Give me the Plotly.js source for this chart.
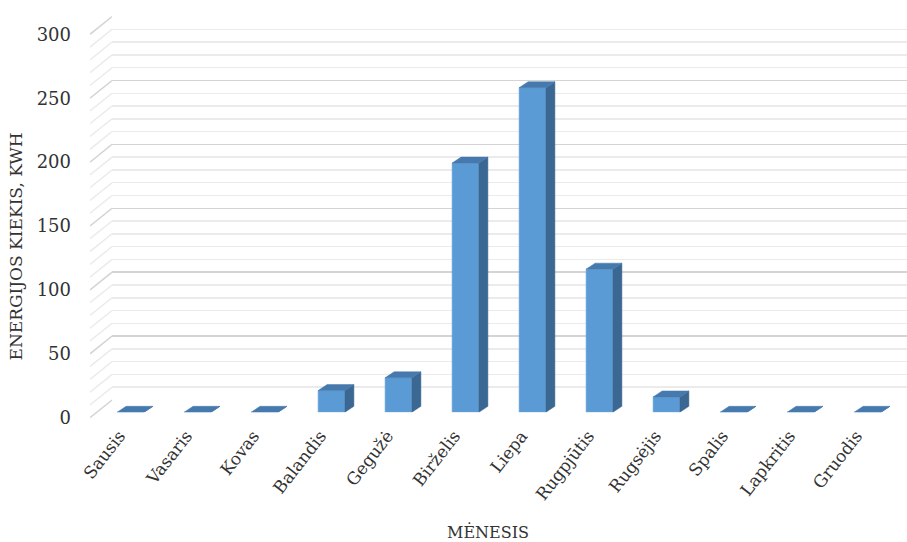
<!DOCTYPE html>
<html>
<head>
<meta charset="utf-8">
<script src="https://cdn.plot.ly/plotly-3.0.1.min.js"></script>
<style>
  html, body { margin: 0; padding: 0; background: #fff; }
  #chart { width: 907px; height: 542px; }
</style>
</head>
<body>
<div id="chart"></div>
<script>
// Monthly energy output, kWh
const months = ['Sausis', 'Vasaris', 'Kovas', 'Balandis', 'Gegužė', 'Birželis',
                'Liepa', 'Rugpjūtis', 'Rugsėjis', 'Spalis', 'Lapkritis', 'Gruodis'];
const energy = [0, 0, 0, 17, 27, 195, 254, 112, 12, 0, 0, 0];
const yTicks = [0, 50, 100, 150, 200, 250, 300];
const yMinor = [0, 10, 20, 30, 40, 50, 60, 70, 80, 90, 100, 110, 120, 130, 140, 150,
                160, 170, 180, 190, 200, 210, 220, 230, 240, 250, 260, 270, 280, 290, 300];

// page geometry helpers (pixels -> paper fractions)
const W = 907, H = 542;
const px = p => p / W;
const py = p => (H - p) / H;
const PPU = 1.278;            // pixels per kWh on the value axis
const depthPx = 17.7;         // vertical lift of the back wall
const depthUnits = depthPx / PPU;

// 3D bar geometry, in axis units
const barW = 0.4;
const sideDx = 9 / 67;
const sideDy = 6 / PPU;

const FONT = 'DejaVu Serif, Liberation Serif, serif';
const TXT = '#333333';

const traces = [];

// slanted left-wall lines linking the front value scale to the back-wall grid
yMinor.forEach(g => {
  traces.push({
    type: 'scatter', mode: 'lines', xaxis: 'x', yaxis: 'y',
    x: [0, 1], y: [g, g + depthUnits],
    line: { color: g % 50 === 0 ? '#d4d4d4' : '#ebebeb', width: 1.5 },
    hoverinfo: 'skip', showlegend: false
  });
});

// front faces of the bars
const idx = months.map((_, i) => i);
traces.push({
  type: 'bar', xaxis: 'x3', yaxis: 'y3',
  x: idx, y: energy, width: barW,
  marker: { color: '#5b9bd5', line: { color: '#6ea8dc', width: 0.6 } },
  hovertext: months, hoverinfo: 'text+y', textposition: 'none', showlegend: false
});

// right side faces
const sx = [], sy = [];
energy.forEach((v, i) => {
  const r = i + barW / 2;
  sx.push(r, r + sideDx, r + sideDx, r, r, null);
  sy.push(0, sideDy, v + sideDy, v, 0, null);
});
traces.push({
  type: 'scatter', mode: 'lines', xaxis: 'x3', yaxis: 'y3',
  x: sx, y: sy, fill: 'toself', fillcolor: '#3a6892',
  line: { color: '#3a6892', width: 0.5 }, hoverinfo: 'skip', showlegend: false
});

// top faces
const tx = [], ty = [];
energy.forEach((v, i) => {
  const l = i - barW / 2, r = i + barW / 2;
  tx.push(l, r, r + sideDx, l + sideDx, l, null);
  ty.push(v, v, v + sideDy, v + sideDy, v, null);
});
traces.push({
  type: 'scatter', mode: 'lines', xaxis: 'x3', yaxis: 'y3',
  x: tx, y: ty, fill: 'toself', fillcolor: '#4679ad',
  line: { color: '#4679ad', width: 0.5 }, hoverinfo: 'skip', showlegend: false
});

// invisible anchors so the back-wall grid and the month-label axis exist
traces.push({
  type: 'scatter', mode: 'markers', xaxis: 'x2', yaxis: 'y2',
  x: [0], y: [0], marker: { opacity: 0 }, hoverinfo: 'skip', showlegend: false
});
traces.push({
  type: 'scatter', mode: 'markers', xaxis: 'x4', yaxis: 'y3',
  x: [0], y: [0], marker: { opacity: 0 }, hoverinfo: 'skip', showlegend: false
});

const yFrontLo = -47, yFrontHi = 315;
const layout = {
  width: W, height: H,
  margin: { l: 0, r: 0, t: 0, b: 0 },
  paper_bgcolor: '#fff', plot_bgcolor: 'rgba(0,0,0,0)',
  font: { family: FONT, color: TXT },
  showlegend: false,
  // left wall + front value labels
  xaxis: {
    domain: [px(90), px(112)], range: [0, 1], visible: false, fixedrange: true
  },
  yaxis: {
    domain: [py(417.7 - yFrontLo * PPU), py(417.7 - yFrontHi * PPU)],
    range: [yFrontLo, yFrontHi], anchor: 'x',
    tickmode: 'array', tickvals: yTicks, ticks: '', ticklabelstandoff: 18,
    showgrid: false, zeroline: false, showline: false,
    tickfont: { family: FONT, size: 18, color: TXT },
    title: { text: 'ENERGIJOS KIEKIS, KWH', font: { family: FONT, size: 17, color: TXT }, standoff: 9 },
    fixedrange: true
  },
  // back wall gridlines
  xaxis2: {
    domain: [px(112), 1], range: [0, 1], visible: false, anchor: 'y2', fixedrange: true
  },
  yaxis2: {
    domain: [py(400 + 0.5 * PPU), py(16.6 - 0.5 * PPU)],
    range: [-0.5, 300.5], anchor: 'x2',
    tickmode: 'array', tickvals: yTicks, showticklabels: false, ticks: '',
    showgrid: true, gridcolor: '#d4d4d4', gridwidth: 1.6, zeroline: false, showline: false,
    minor: { tickmode: 'array', tickvals: yMinor, showgrid: true, gridcolor: '#ebebeb', gridwidth: 1.5 },
    fixedrange: true
  },
  // bars
  xaxis3: {
    domain: [px(97), px(901)], range: [-0.5, 11.5], anchor: 'y3',
    visible: false, fixedrange: true
  },
  yaxis3: {
    domain: [py(412.3), py(412.3 - 300 * PPU)],
    range: [0, 300], anchor: 'x3', visible: false, fixedrange: true
  },
  // slanted month labels, set on the front edge of the floor
  xaxis4: {
    domain: [px(86), px(890)], range: [-0.5, 11.5], anchor: 'y3',
    tickmode: 'array', tickvals: idx, ticktext: months, tickangle: -52,
    ticks: 'outside', ticklen: 6, tickcolor: 'rgba(0,0,0,0)',
    showgrid: false, zeroline: false, showline: false,
    tickfont: { family: FONT, size: 17, color: TXT },
    title: { text: 'MĖNESIS', font: { family: FONT, size: 16, color: TXT }, standoff: 26 },
    fixedrange: true
  }
};

Plotly.newPlot('chart', traces, layout, { displayModeBar: false, staticPlot: true });
</script>
</body>
</html>
